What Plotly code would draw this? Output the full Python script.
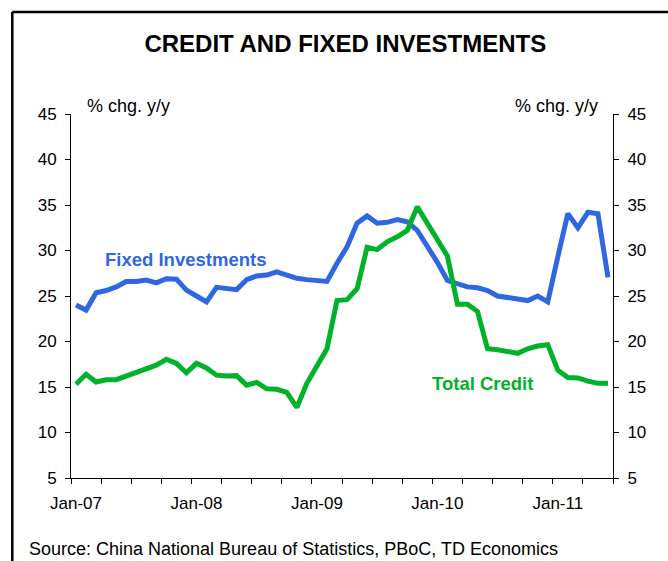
import plotly.graph_objects as go
import pandas as pd

# ---- data (monthly, Jan-2007 .. Jun-2011) ----
months = pd.date_range("2007-01-01", periods=54, freq="MS").strftime("%b-%y").tolist()

fixed_investments = [
    24.0, 23.45, 25.35, 25.6, 26.0, 26.6, 26.6, 26.75, 26.45, 26.9, 26.85, 25.65,
    25.0, 24.35, 25.95, 25.8, 25.7, 26.8, 27.2, 27.3, 27.65, 27.3, 26.95, 26.8,
    26.7, 26.6, 28.6, 30.4, 33.0, 33.8, 33.0, 33.1, 33.4, 33.15, 32.2, 30.5,
    28.7, 26.7, 26.4, 26.0, 25.9, 25.6, 25.0, 24.8, 24.6, 24.5, 25.0, 24.35,
    29.3, 34.05, 32.5, 34.2, 34.05, 27.05,
]
total_credit = [
    15.3, 16.4, 15.55, 15.8, 15.8, 16.2, 16.55, 17.0, 17.4, 18.05, 17.6, 16.55,
    17.6, 17.1, 16.3, 16.2, 16.25, 15.2, 15.5, 14.8, 14.75, 14.4, 12.75, 15.4,
    17.3, 19.2, 24.5, 24.6, 25.8, 30.35, 30.1, 30.95, 31.5, 32.2, 34.8, 33.0,
    31.15, 29.4, 24.1, 24.1, 23.3, 19.2, 19.1, 18.95, 18.7, 19.2, 19.5, 19.65,
    16.85, 16.05, 16.0, 15.65, 15.4, 15.4,
]
tick_labels = ["Jan-07", "Jan-08", "Jan-09", "Jan-10", "Jan-11"]
label_months = ["Jan-07", "Jan-08", "Jan-09", "Jan-10", "Jan-11"]
y_ticks = [5, 10, 15, 20, 25, 30, 35, 40, 45]

BLUE = "#2F67E3"
GREEN = "#00B22A"
FONT = "Liberation Sans, Arial, sans-serif"

xs = list(range(len(months)))
label_pos = [months.index(m) for m in label_months]
boundaries = [i - 0.5 for i in range(0, len(months) + 1, 3)]
xrange_ = [-0.5, len(months) - 0.5]

fig = go.Figure()
fig.add_trace(go.Scatter(x=xs, y=fixed_investments, mode="lines",
                         line=dict(color=BLUE, width=5), name="Fixed Investments",
                         hoverinfo="skip"))
fig.add_trace(go.Scatter(x=xs, y=total_credit, mode="lines",
                         line=dict(color=GREEN, width=5), name="Total Credit",
                         hoverinfo="skip"))
# invisible trace bound to the secondary (label / right) axes
fig.add_trace(go.Scatter(x=[xs[0]], y=[y_ticks[0]], xaxis="x2", yaxis="y2", mode="markers",
                         marker=dict(opacity=0), showlegend=False, hoverinfo="skip"))

L, R, T, B = 70.7, 55.3, 114, 83.3
W, H = 668, 561
pw, ph = W - L - R, H - T - B

def px(x):
    return (x - L) / pw

def py(y):
    return (H - B - y) / ph

fig.update_layout(
    width=W, height=H,
    margin=dict(l=L, r=R, t=T, b=B, pad=0),
    paper_bgcolor="white", plot_bgcolor="white",
    showlegend=False,
    font=dict(family=FONT, color="black", size=17),
    title=dict(text="<b>CREDIT AND FIXED INVESTMENTS</b>", x=345.3 / W, xanchor="center",
               y=1 - 44 / H, yanchor="middle", font=dict(size=24, family=FONT, color="black")),
    xaxis=dict(
        range=xrange_, showgrid=False, zeroline=False,
        showline=True, linecolor="black", linewidth=1,
        tickmode="array", tickvals=boundaries, ticks="outside", ticklen=5,
        tickcolor="black", tickwidth=1, showticklabels=False,
    ),
    xaxis2=dict(
        range=xrange_, overlaying="x", anchor="y2", side="bottom", showgrid=False,
        zeroline=False, showline=False,
        tickmode="array", tickvals=label_pos, ticktext=tick_labels, ticks="",
        tickfont=dict(size=17), ticklabelstandoff=13,
    ),
    yaxis=dict(
        range=[5, 45], tickvals=y_ticks, showgrid=False, zeroline=False,
        showline=True, linecolor="black", linewidth=1,
        ticks="outside", ticklen=5, tickcolor="black", tickfont=dict(size=17),
        ticklabelstandoff=5,
    ),
    yaxis2=dict(
        range=[5, 45], tickvals=y_ticks, overlaying="y", side="right", showgrid=False,
        zeroline=False, showline=True, linecolor="black", linewidth=1,
        ticks="outside", ticklen=5, tickcolor="black", tickfont=dict(size=17),
        ticklabelstandoff=5,
    ),
)

fig.add_annotation(text="% chg. y/y", x=px(128), y=py(106), xref="paper", yref="paper",
                   showarrow=False, xanchor="center", yanchor="middle", font=dict(size=18))
fig.add_annotation(text="% chg. y/y", x=px(555.8), y=py(106), xref="paper", yref="paper",
                   showarrow=False, xanchor="center", yanchor="middle", font=dict(size=18))
fig.add_annotation(text="<b>Fixed Investments</b>", x=px(184.9), y=py(259.7), xref="paper",
                   yref="paper", showarrow=False, xanchor="center", yanchor="middle",
                   font=dict(size=18.5, color=BLUE))
fig.add_annotation(text="<b>Total Credit</b>", x=px(481.7), y=py(383.3), xref="paper",
                   yref="paper", showarrow=False, xanchor="center", yanchor="middle",
                   font=dict(size=18.5, color=GREEN))
fig.add_annotation(text="Source: China National Bureau of Statistics, PBoC, TD Economics",
                   x=px(26.7), y=py(548.5), xref="paper", yref="paper", showarrow=False,
                   xanchor="left", yanchor="middle", font=dict(size=18))

# outer frame (left and top edges)
fig.add_shape(type="line", xref="paper", yref="paper", x0=px(12), x1=px(12),
              y0=py(600), y1=py(12), line=dict(color="black", width=2.5))
fig.add_shape(type="line", xref="paper", yref="paper", x0=px(12), x1=px(700),
              y0=py(12), y1=py(12), line=dict(color="black", width=2.5))

fig.write_html("out.html")
